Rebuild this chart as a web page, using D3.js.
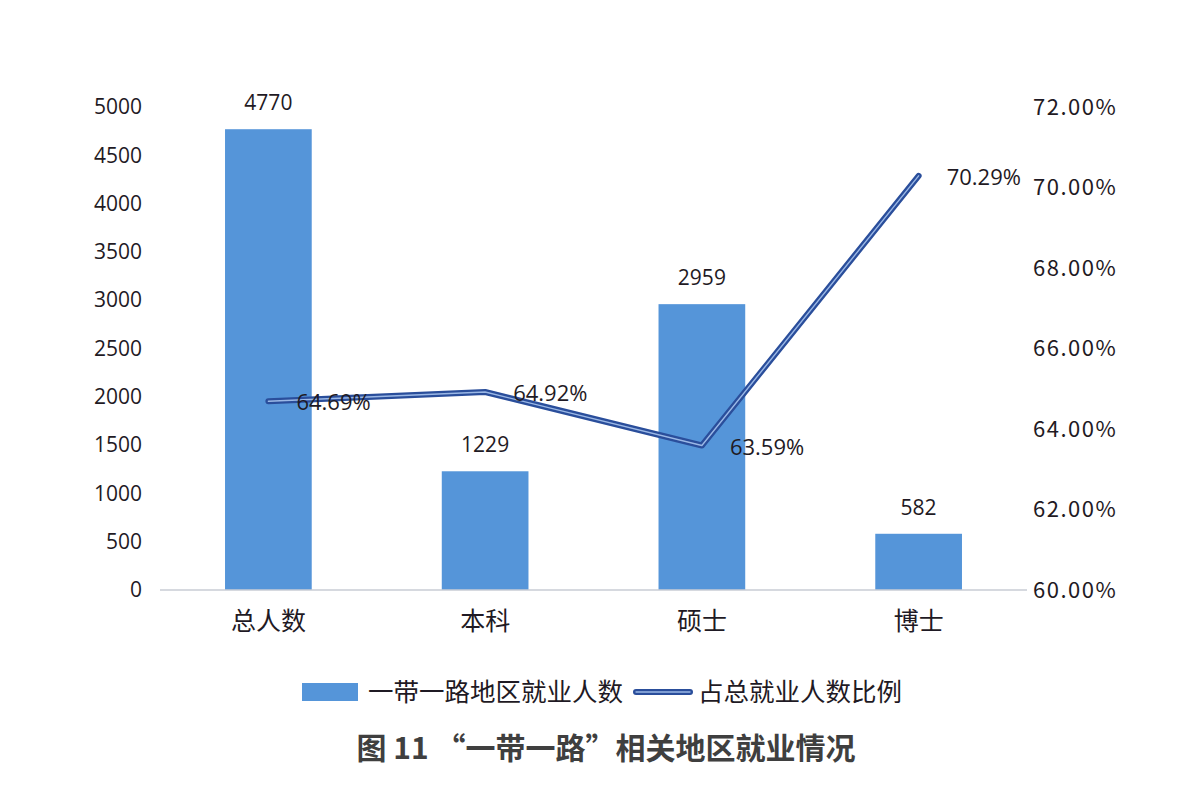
<!DOCTYPE html>
<html lang="zh">
<head>
<meta charset="UTF-8">
<title>“一带一路”相关地区就业情况</title>
<script src="https://d3js.org/d3.v7.min.js"></script>
<style>
    body { margin: 0; background: #fff; }
    svg { display: block; }
    .num { font-family: "Open Sans", "Noto Sans", sans-serif; fill: #1f1a24; }
    .cjk { font-family: "Noto Sans CJK SC", sans-serif; fill: #1f1a24; }
</style>
</head>
<body>
<svg id="chart" width="1200" height="794"></svg>
<script>
    // data
    const categories = ["总人数", "本科", "硕士", "博士"];
    const employed = [4770, 1229, 2959, 582];
    const ratio = [64.69, 64.92, 63.59, 70.29];
    const leftTicks = [0, 500, 1000, 1500, 2000, 2500, 3000, 3500, 4000, 4500, 5000];
    const rightTicks = [60, 62, 64, 66, 68, 70, 72];
    const seriesNames = ["一带一路地区就业人数", "占总就业人数比例"];
    const title = "图 11 “一带一路”相关地区就业情况";

    const svg = d3.select("#chart");
    const plot = { left: 160, right: 1027, top: 107, bottom: 590 };

    const x = d3.scaleBand()
        .domain(categories)
        .range([plot.left, plot.right])
        .paddingInner(0.6)
        .paddingOuter(0.3);

    const y = d3.scaleLinear().domain([0, 5000]).range([plot.bottom, plot.top]);
    const y2 = d3.scaleLinear().domain([60, 72]).range([plot.bottom, plot.top]);

    // left axis labels
    const yAxis = d3.axisLeft(y).tickValues(leftTicks).tickSize(0).tickPadding(0)
        .tickFormat(d3.format("d"));
    svg.append("g")
        .attr("transform", `translate(142,0)`)
        .call(yAxis)
        .call(g => g.select(".domain").remove())
        .selectAll("text")
        .attr("class", "num")
        .style("font-size", "21px");

    // right axis labels
    const y2Axis = d3.axisRight(y2).tickValues(rightTicks).tickSize(0).tickPadding(0)
        .tickFormat(d => d.toFixed(2) + "%");
    svg.append("g")
        .attr("transform", `translate(1033,0)`)
        .call(y2Axis)
        .call(g => g.select(".domain").remove())
        .selectAll("text")
        .attr("class", "cjk")
        .style("font-size", "22px")
        .style("letter-spacing", "1.5px");

    // bars
    svg.append("g")
        .selectAll("rect")
        .data(employed)
        .join("rect")
        .attr("x", (d, i) => x(categories[i]))
        .attr("y", d => y(d))
        .attr("width", x.bandwidth())
        .attr("height", d => y(0) - y(d))
        .attr("fill", "#5595d9");

    // baseline
    svg.append("line")
        .attr("x1", plot.left).attr("x2", plot.right)
        .attr("y1", y(0)).attr("y2", y(0))
        .attr("stroke", "#c8ccd4").attr("stroke-width", 1.5);

    // bar value labels
    svg.append("g")
        .selectAll("text")
        .data(employed)
        .join("text")
        .attr("class", "num")
        .attr("x", (d, i) => x(categories[i]) + x.bandwidth() / 2)
        .attr("y", d => y(d) - 19)
        .attr("text-anchor", "middle")
        .style("font-size", "21px")
        .text(d => d);

    // category labels
    const xAxis = d3.axisBottom(x).tickSize(0).tickPadding(0);
    svg.append("g")
        .attr("transform", `translate(0,${plot.bottom + 21})`)
        .call(xAxis)
        .call(g => g.select(".domain").remove())
        .selectAll("text")
        .attr("class", "cjk")
        .attr("dy", "0.75em")
        .style("font-size", "25px");

    // ratio line: dark outer stroke with a light inner highlight
    const line = d3.line()
        .x((d, i) => x(categories[i]) + x.bandwidth() / 2)
        .y(d => y2(d));

    svg.append("path")
        .datum(ratio)
        .attr("d", line)
        .attr("fill", "none")
        .attr("stroke", "#2a4e9b")
        .attr("stroke-width", 6)
        .attr("stroke-linecap", "round")
        .attr("stroke-linejoin", "round");
    svg.append("path")
        .datum(ratio)
        .attr("d", line)
        .attr("fill", "none")
        .attr("stroke", "#9bb8e6")
        .attr("stroke-width", 1.4)
        .attr("stroke-linecap", "round")
        .attr("stroke-linejoin", "round");

    // ratio labels
    svg.append("g")
        .selectAll("text")
        .data(ratio)
        .join("text")
        .attr("class", "num")
        .attr("x", (d, i) => x(categories[i]) + x.bandwidth() / 2 + 28)
        .attr("y", d => y2(d) + 9)
        .style("font-size", "22px")
        .text(d => d.toFixed(2) + "%");

    // legend
    const legend = svg.append("g").attr("transform", "translate(302,692)");
    legend.append("rect")
        .attr("x", 0).attr("y", -9)
        .attr("width", 56).attr("height", 18)
        .attr("fill", "#5595d9");
    legend.append("text")
        .attr("class", "cjk")
        .attr("x", 66).attr("y", 9)
        .style("font-size", "25.5px")
        .text(seriesNames[0]);
    legend.append("line")
        .attr("x1", 334).attr("x2", 388).attr("y1", 0).attr("y2", 0)
        .attr("stroke", "#2a4e9b").attr("stroke-width", 6)
        .attr("stroke-linecap", "round");
    legend.append("line")
        .attr("x1", 334).attr("x2", 388).attr("y1", 0).attr("y2", 0)
        .attr("stroke", "#9bb8e6").attr("stroke-width", 1.4)
        .attr("stroke-linecap", "round");
    legend.append("text")
        .attr("class", "cjk")
        .attr("x", 396).attr("y", 9)
        .style("font-size", "25.5px")
        .text(seriesNames[1]);

    // caption
    svg.append("text")
        .attr("x", 606).attr("y", 759)
        .attr("text-anchor", "middle")
        .style("font-family", "'Noto Sans CJK SC', sans-serif")
        .style("font-size", "30px")
        .style("font-weight", "bold")
        .style("fill", "#3f3f3f")
        .text(title);
</script>
</body>
</html>
